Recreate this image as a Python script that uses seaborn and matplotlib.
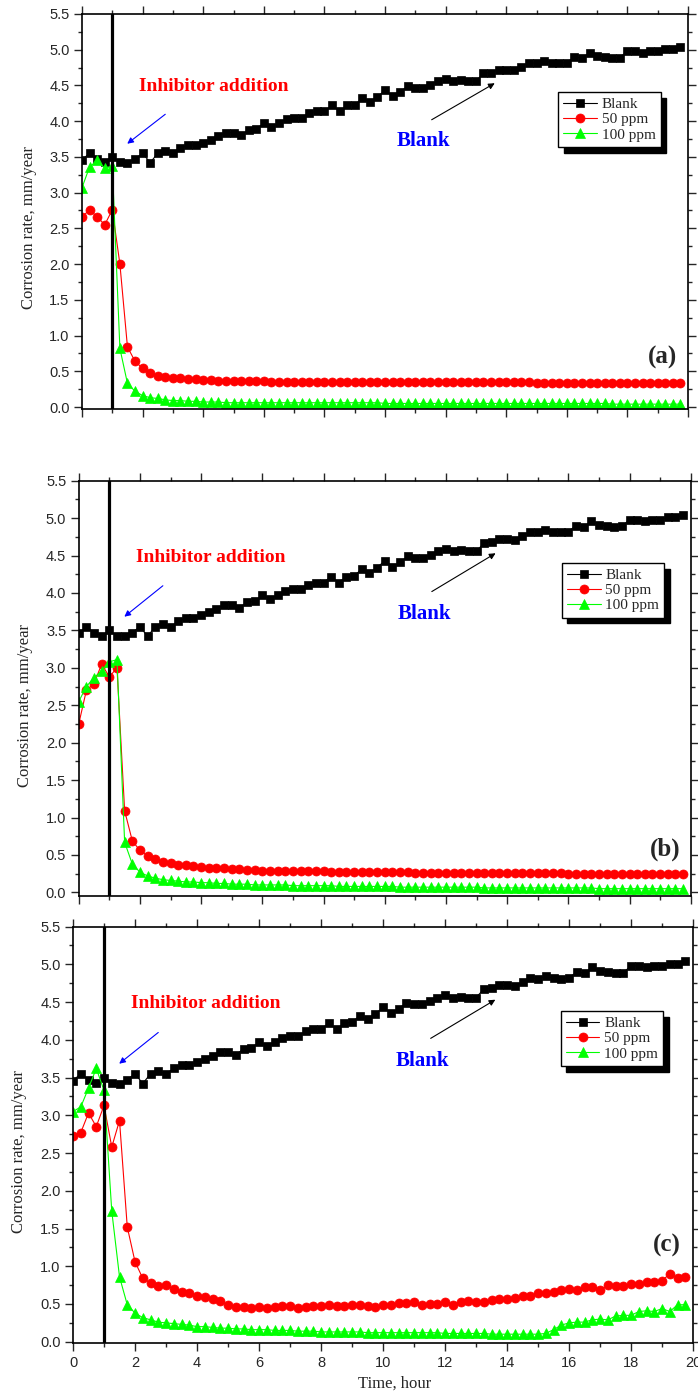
import numpy as np
import matplotlib
matplotlib.use("Agg")
import matplotlib.pyplot as plt
from matplotlib.ticker import MultipleLocator, FormatStrFormatter
import seaborn as sns

# sampling grid: one reading every 15 min
time_h = np.arange(80) * 0.25

# blank run (same in all three panels)
blank = [3.46, 3.55, 3.47, 3.43, 3.50, 3.43, 3.42, 3.47, 3.55, 3.42,
         3.55, 3.58, 3.55, 3.62, 3.66, 3.67, 3.70, 3.74, 3.79, 3.84,
         3.84, 3.80, 3.88, 3.89, 3.97, 3.92, 3.97, 4.03, 4.05, 4.05,
         4.11, 4.14, 4.14, 4.22, 4.14, 4.22, 4.23, 4.32, 4.27, 4.34,
         4.43, 4.35, 4.41, 4.49, 4.47, 4.47, 4.51, 4.56, 4.59, 4.56,
         4.57, 4.56, 4.56, 4.67, 4.68, 4.72, 4.72, 4.71, 4.76, 4.82,
         4.81, 4.84, 4.82, 4.81, 4.82, 4.90, 4.88, 4.96, 4.91, 4.90,
         4.88, 4.89, 4.98, 4.98, 4.96, 4.98, 4.98, 5.01, 5.01, 5.04]

# panel (a)
a_50 = [2.66, 2.76, 2.66, 2.55, 2.76, 2.00, 0.84, 0.64, 0.54, 0.48,
        0.44, 0.42, 0.41, 0.40, 0.39, 0.39, 0.38, 0.38, 0.37, 0.37,
        0.37, 0.36, 0.36, 0.36, 0.36, 0.35, 0.35, 0.35, 0.35, 0.35,
        0.35, 0.35, 0.35, 0.35, 0.35, 0.35, 0.35, 0.35, 0.35, 0.35,
        0.35, 0.35, 0.35, 0.35, 0.35, 0.35, 0.35, 0.35, 0.35, 0.35,
        0.35, 0.35, 0.35, 0.35, 0.35, 0.35, 0.35, 0.35, 0.35, 0.35,
        0.34, 0.34, 0.34, 0.34, 0.34, 0.34, 0.34, 0.34, 0.34, 0.34,
        0.34, 0.34, 0.34, 0.34, 0.34, 0.34, 0.34, 0.34, 0.34, 0.34]
a_100 = [3.07, 3.36, 3.45, 3.34, 3.37, 0.82, 0.33, 0.22, 0.16, 0.13,
         0.12, 0.10, 0.09, 0.09, 0.08, 0.08, 0.07, 0.07, 0.07, 0.06,
         0.06, 0.06, 0.06, 0.06, 0.06, 0.06, 0.06, 0.06, 0.06, 0.06,
         0.06, 0.06, 0.06, 0.06, 0.06, 0.06, 0.06, 0.06, 0.06, 0.06,
         0.05, 0.05, 0.05, 0.05, 0.05, 0.05, 0.05, 0.05, 0.05, 0.05,
         0.05, 0.05, 0.05, 0.05, 0.05, 0.05, 0.05, 0.05, 0.05, 0.05,
         0.05, 0.05, 0.05, 0.05, 0.05, 0.05, 0.05, 0.05, 0.05, 0.05,
         0.04, 0.04, 0.04, 0.04, 0.04, 0.04, 0.04, 0.04, 0.04, 0.04]

# panel (b)
b_50 = [2.25, 2.70, 2.79, 3.05, 2.88, 3.00, 1.09, 0.69, 0.56, 0.49,
        0.44, 0.41, 0.39, 0.37, 0.36, 0.35, 0.34, 0.33, 0.32, 0.32,
        0.31, 0.31, 0.30, 0.30, 0.29, 0.29, 0.29, 0.28, 0.28, 0.28,
        0.28, 0.28, 0.28, 0.27, 0.27, 0.27, 0.27, 0.27, 0.27, 0.27,
        0.27, 0.27, 0.27, 0.27, 0.26, 0.26, 0.26, 0.26, 0.26, 0.26,
        0.26, 0.26, 0.26, 0.26, 0.26, 0.26, 0.26, 0.26, 0.26, 0.26,
        0.26, 0.26, 0.26, 0.26, 0.25, 0.25, 0.25, 0.25, 0.25, 0.25,
        0.25, 0.25, 0.25, 0.25, 0.25, 0.25, 0.25, 0.25, 0.25, 0.25]
b_100 = [2.55, 2.75, 2.87, 2.96, 3.08, 3.11, 0.67, 0.38, 0.27, 0.22,
         0.19, 0.17, 0.16, 0.15, 0.14, 0.14, 0.13, 0.13, 0.12, 0.12,
         0.11, 0.11, 0.11, 0.10, 0.10, 0.10, 0.10, 0.10, 0.09, 0.09,
         0.09, 0.09, 0.09, 0.09, 0.08, 0.08, 0.08, 0.08, 0.08, 0.08,
         0.08, 0.08, 0.07, 0.07, 0.07, 0.07, 0.07, 0.07, 0.07, 0.07,
         0.07, 0.07, 0.07, 0.06, 0.06, 0.06, 0.06, 0.06, 0.06, 0.06,
         0.06, 0.06, 0.06, 0.06, 0.06, 0.06, 0.06, 0.06, 0.05, 0.05,
         0.05, 0.05, 0.05, 0.05, 0.05, 0.05, 0.05, 0.05, 0.05, 0.05]

# panel (c)
c_50 = [2.73, 2.77, 3.03, 2.85, 3.13, 2.58, 2.93, 1.52, 1.06, 0.84,
        0.78, 0.74, 0.75, 0.70, 0.66, 0.65, 0.61, 0.59, 0.57, 0.54,
        0.49, 0.46, 0.46, 0.45, 0.46, 0.45, 0.46, 0.47, 0.47, 0.45,
        0.46, 0.48, 0.48, 0.49, 0.47, 0.48, 0.49, 0.49, 0.48, 0.46,
        0.49, 0.49, 0.51, 0.51, 0.52, 0.49, 0.50, 0.50, 0.53, 0.49,
        0.53, 0.54, 0.53, 0.53, 0.55, 0.56, 0.57, 0.58, 0.60, 0.61,
        0.64, 0.65, 0.66, 0.68, 0.70, 0.69, 0.72, 0.72, 0.68, 0.75,
        0.74, 0.74, 0.76, 0.77, 0.79, 0.79, 0.81, 0.90, 0.85, 0.86]
c_100 = [3.05, 3.11, 3.36, 3.62, 3.33, 1.73, 0.86, 0.49, 0.38, 0.32,
         0.29, 0.26, 0.25, 0.24, 0.23, 0.22, 0.20, 0.20, 0.19, 0.18,
         0.18, 0.17, 0.17, 0.16, 0.16, 0.16, 0.15, 0.15, 0.15, 0.14,
         0.14, 0.14, 0.13, 0.13, 0.13, 0.13, 0.13, 0.13, 0.12, 0.12,
         0.12, 0.12, 0.12, 0.12, 0.12, 0.12, 0.12, 0.12, 0.11, 0.11,
         0.11, 0.11, 0.11, 0.11, 0.10, 0.10, 0.10, 0.10, 0.10, 0.10,
         0.10, 0.11, 0.16, 0.22, 0.25, 0.26, 0.26, 0.29, 0.30, 0.29,
         0.34, 0.35, 0.35, 0.40, 0.41, 0.40, 0.44, 0.40, 0.49, 0.49]

sns.set_style("ticks")
plt.rcParams['font.family'] = ['Liberation Sans', 'DejaVu Sans']
SERIF = ['Liberation Serif', 'DejaVu Serif']

fig = plt.figure(figsize=(6.98, 13.95), dpi=100)

# tag, 50 ppm, 100 ppm, axes rect, y bottom, legend anchor, tag y
panels = [
    ("(a)", a_50, a_100, [0.1175, 0.7067, 0.8682, 0.2833], -0.03, (0.955, 0.802), 0.70),
    ("(b)", b_50, b_100, [0.1128, 0.3576, 0.8768, 0.2978], -0.05, (0.957, 0.802), 0.57),
    ("(c)", c_50, c_100, [0.1046, 0.0371, 0.8883, 0.2987], -0.02, (0.952, 0.797), 1.28),
]

for i, (tag, s50, s100, rect, ymin, anchor, tag_y) in enumerate(panels):
    ax = fig.add_axes(rect)
    sns.lineplot(x=time_h, y=blank, ax=ax, color='black', marker='s',
                 markersize=5.5, markeredgecolor='black', markeredgewidth=0.5,
                 linewidth=0.8, label='Blank')
    sns.lineplot(x=time_h, y=s50, ax=ax, color='#ff0000', marker='o',
                 markersize=6.5, markeredgecolor='#ff0000', markeredgewidth=0.5,
                 linewidth=0.8, label='50 ppm')
    sns.lineplot(x=time_h, y=s100, ax=ax, color='#00ff00', marker='^',
                 markersize=7, markeredgecolor='#00ff00', markeredgewidth=0.5,
                 linewidth=0.8, label='100 ppm')

    ax.axvline(1.0, color='black', linewidth=2.3, zorder=5)

    ax.set_xlim(0, 20)
    ax.set_ylim(ymin, 5.5)
    ax.xaxis.set_major_locator(MultipleLocator(2))
    ax.xaxis.set_minor_locator(MultipleLocator(1))
    ax.yaxis.set_major_locator(MultipleLocator(0.5))
    ax.yaxis.set_minor_locator(MultipleLocator(0.25))
    ax.yaxis.set_major_formatter(FormatStrFormatter('%.1f'))
    ax.tick_params(which='both', direction='out', top=True, right=True,
                   labeltop=False, labelright=False, width=1, labelsize=10.5,
                   pad=3)
    ax.tick_params(which='major', length=6)
    ax.tick_params(which='minor', length=3)
    if i < 2:
        ax.tick_params(labelbottom=False)
    for sp in ax.spines.values():
        sp.set_visible(True)
        sp.set_linewidth(1.2)
        sp.set_color('black')

    ax.set_ylabel("Corrosion rate, mm/year", family=SERIF, fontsize=12)
    ax.yaxis.set_label_coords(-0.074, 0.46)
    if i == 2:
        ax.set_xlabel("Time, hour", family=SERIF, fontsize=12)
        ax.xaxis.set_label_coords(0.519, -0.078)
    else:
        ax.set_xlabel("")

    ax.text(1.87, 4.48, "Inhibitor addition", color='#ff0000', family=SERIF,
            fontsize=14, fontweight='bold', ha='left', va='center')
    ax.annotate("", xy=(1.42, 3.66), xytext=(2.82, 4.12),
                arrowprops=dict(arrowstyle='-|>', color='blue', lw=0.8,
                                mutation_scale=9))
    ax.text(11.28, 3.72, "Blank", color='blue', family=SERIF,
            fontsize=15, fontweight='bold', ha='center', va='center')
    ax.annotate("", xy=(13.7, 4.55), xytext=(11.46, 4.0),
                arrowprops=dict(arrowstyle='-|>', color='black', lw=0.8,
                                mutation_scale=9))
    ax.text(19.15, tag_y, tag, family=SERIF, fontsize=18, fontweight='bold',
            ha='center', va='center')

    leg = ax.legend(loc='upper right', bbox_to_anchor=anchor, borderaxespad=0,
                    frameon=True, fancybox=False, framealpha=1,
                    edgecolor='black', handlelength=2.2, handletextpad=0.3,
                    borderpad=0.35, labelspacing=0.1,
                    prop={'family': SERIF, 'size': 11},
                    shadow={'color': 'black', 'alpha': 1, 'ox': 4, 'oy': -4})
    leg.get_frame().set_linewidth(1.0)

fig.savefig("out.png", dpi=100)
